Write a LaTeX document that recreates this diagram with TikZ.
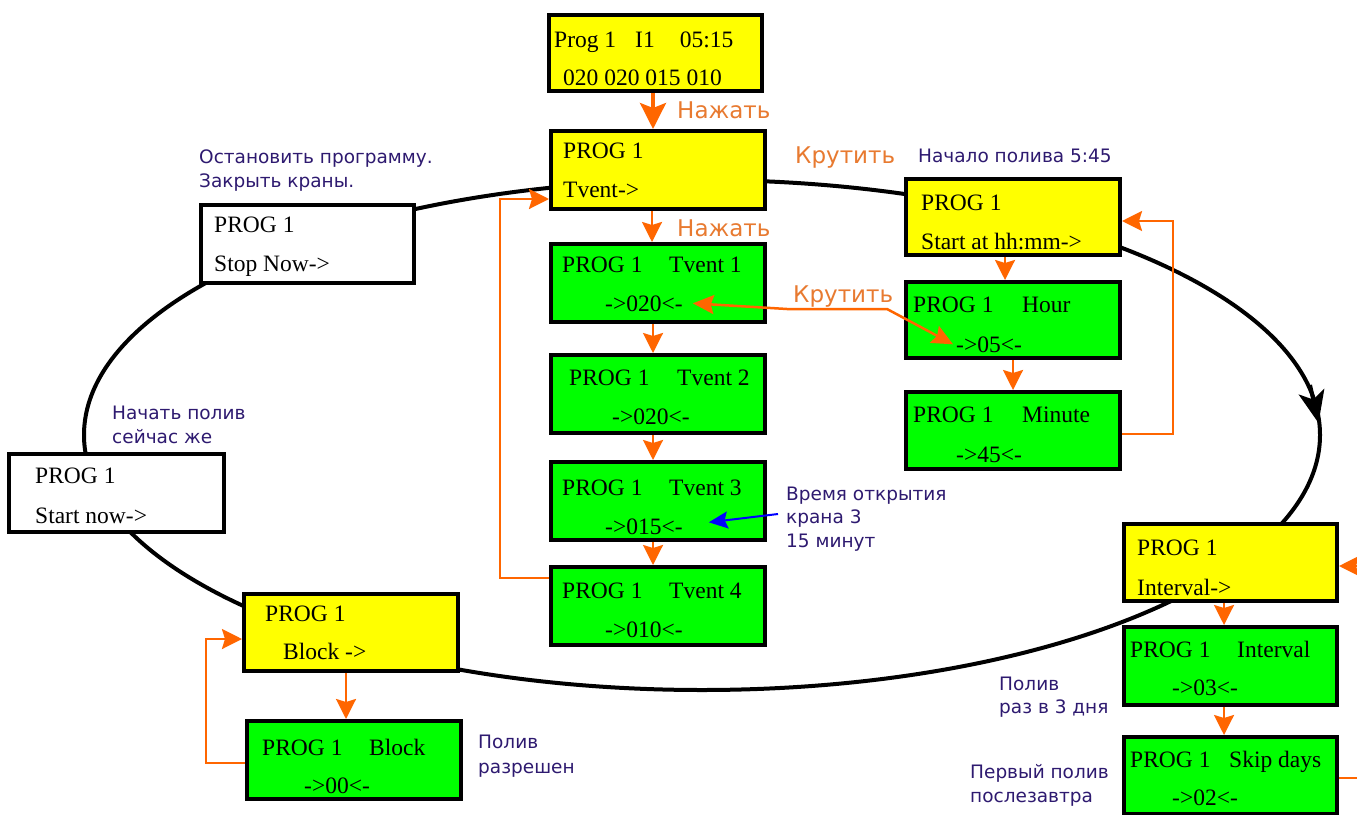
\documentclass[tikz,border=0pt]{standalone}
\usepackage{fontspec}
\setmainfont{Liberation Serif}
\newfontfamily\dv{DejaVu Sans}
\usetikzlibrary{arrows.meta,calc}
\definecolor{annc}{RGB}{46,26,112}
\definecolor{olab}{RGB}{232,122,48}
\definecolor{oline}{RGB}{255,102,0}
\definecolor{lcdy}{RGB}{255,255,0}
\definecolor{lcdg}{RGB}{0,255,0}
\definecolor{bluea}{RGB}{0,0,255}
\begin{document}
\begin{tikzpicture}[x=1pt,y=-1pt,
  lcd/.style={draw=black, line width=4pt, inner sep=0pt, minimum width=214pt, minimum height=78pt},
  lt/.style={anchor=base west, inner sep=0pt, font=\fontsize{23.5}{23.5}\selectfont},
  an/.style={anchor=base west, inner sep=0pt, text=annc, font=\dv\fontsize{18.5}{24}\selectfont},
  ol/.style={anchor=base west, inner sep=0pt, text=olab, font=\dv\fontsize{23}{23}\selectfont},
  oarr/.style={draw=oline, line width=2.5pt, -{Stealth[length=20pt,width=20pt,inset=3pt]}},
  obig/.style={draw=oline, line width=3.5pt, -{Stealth[length=26pt,width=26pt,inset=5pt]}},
  loopline/.style={draw=black, line width=4pt}
]
\useasboundingbox (0,0) rectangle (1357,814);
\fill[white] (0,0) rectangle (1357,814);

% main loop
\draw[loopline] (702,435) ellipse [x radius=618pt, y radius=255pt];
\coordinate (lp1) at (1310,385);
\coordinate (lp2) at (1318.5,423);
\draw[loopline, -{Stealth[length=32pt,width=26pt,inset=8pt]}] (lp1) -- (lp2);

% boxes
\node[lcd, fill=lcdy, minimum width=213pt, minimum height=76pt] (top) at (655.5,53) {};
\node[lcd, fill=lcdy] (tv) at (658,170) {};
\node[lcd, fill=lcdg] (t1) at (658,283) {};
\node[lcd, fill=lcdg] (t2) at (658,394) {};
\node[lcd, fill=lcdg] (t3) at (658,501) {};
\node[lcd, fill=lcdg] (t4) at (658,606) {};
\node[lcd, fill=lcdy, minimum height=76pt] (st) at (1013,217) {};
\node[lcd, fill=lcdg, minimum height=76pt] (hr) at (1013,320) {};
\node[lcd, fill=lcdg, minimum height=77pt] (mn) at (1013,430.5) {};
\node[lcd, fill=lcdy, minimum width=213pt, minimum height=77pt] (iv) at (1230.5,562.5) {};
\node[lcd, fill=lcdg, minimum width=213pt] (iv2) at (1230.5,666) {};
\node[lcd, fill=lcdg, minimum width=213pt, minimum height=77pt] (sk) at (1230.5,775.5) {};
\node[lcd, fill=white, minimum width=213pt] (sn) at (307.5,244) {};
\node[lcd, fill=white, minimum width=215pt] (sw) at (116.5,493) {};
\node[lcd, fill=lcdy, minimum height=77pt] (bl) at (351,632.5) {};
\node[lcd, fill=lcdg] (bk) at (354,760) {};

% box texts
\node[lt] (topa) at (554,47) {Prog 1\hspace{19pt}I1\hspace{25pt}05:15};
\node[lt] (topb) at (563,85) {020 020 015 010};
\node[lt] (tva) at (563,158) {PROG 1};
\node[lt] (tvb) at (563,197) {Tvent->};
\node[lt] (t1a) at (562,272) {PROG 1};
\node[lt] (t1c) at (669,272) {Tvent 1};
\node[lt] (t1b) at (605,311) {->020<-};
\node[lt] (t2a) at (569,385) {PROG 1};
\node[lt] (t2c) at (677,385) {Tvent 2};
\node[lt] (t2b) at (612,424) {->020<-};
\node[lt] (t3a) at (562,495) {PROG 1};
\node[lt] (t3c) at (669,495) {Tvent 3};
\node[lt] (t3b) at (605,534) {->015<-};
\node[lt] (t4a) at (562,598) {PROG 1};
\node[lt] (t4c) at (669,598) {Tvent 4};
\node[lt] (t4b) at (605,637) {->010<-};
\node[lt] (sta) at (921,210) {PROG 1};
\node[lt] (stb) at (921,249) {Start at hh:mm->};
\node[lt] (hra) at (913,312) {PROG 1};
\node[lt] (hrc) at (1022,312) {Hour};
\node[lt] (hrb) at (956,352) {->05<-};
\node[lt] (mna) at (913,422) {PROG 1};
\node[lt] (mnc) at (1022,422) {Minute};
\node[lt] (mnb) at (956,462) {->45<-};
\node[lt] (iva) at (1137,555) {PROG 1};
\node[lt] (ivb) at (1137,595) {Interval->};
\node[lt] (iv2a) at (1130,657) {PROG 1};
\node[lt] (iv2c) at (1237,657) {Interval};
\node[lt] (iv2b) at (1172,695) {->03<-};
\node[lt] (ska) at (1130,767) {PROG 1};
\node[lt] (skc) at (1229,767) {Skip days};
\node[lt] (skb) at (1172,805) {->02<-};
\node[lt] (sna) at (214,232) {PROG 1};
\node[lt] (snb) at (214,271) {Stop Now->};
\node[lt] (swa) at (35,483) {PROG 1};
\node[lt] (swb) at (35,523) {Start now->};
\node[lt] (bla) at (265,621) {PROG 1};
\node[lt] (blb) at (283,659) {Block ->};
\node[lt] (bka) at (262,755) {PROG 1};
\node[lt] (bkc) at (369,755) {Block};
\node[lt] (bkb) at (304,793) {->00<-};

% orange labels
\node[ol] (n1) at (677,118) {Нажать};
\node[ol] (n2) at (677,236) {Нажать};
\node[ol] (k1) at (795,163) {Крутить};
\node[ol] (k2) at (793,302) {Крутить};

% annotations
\node[an] (a1) at (199,163) {Остановить программу.};
\node[an] (a2) at (199,187) {Закрыть краны.};
\node[an] (a3) at (918,162) {Начало полива 5:45};
\node[an] (a4) at (112,419) {Начать полив};
\node[an] (a5) at (112,443) {сейчас же};
\node[an] (a6) at (786,500) {Время открытия};
\node[an] (a7) at (786,523) {крана 3};
\node[an] (a8) at (786,547) {15 минут};
\node[an] (a9) at (999,690) {Полив};
\node[an] (a10) at (999,713) {раз в 3 дня};
\node[an] (a11) at (970,778) {Первый полив};
\node[an] (a12) at (970,802) {послезавтра};
\node[an] (a13) at (478,748) {Полив};
\node[an] (a14) at (478,773) {разрешен};

% orange connectors
\draw[obig] ([xshift=-2.5pt]top.south) -- ([xshift=-2.5pt]top.south |- tv.north);
\draw[oarr] ([xshift=-6pt]tv.south) -- ([xshift=-6pt]t1.north);
\draw[oarr] ([xshift=-5pt]t1.south) -- ([xshift=-5pt]t2.north);
\draw[oarr] ([xshift=-5pt]t2.south) -- ([xshift=-5pt]t3.north);
\draw[oarr] ([xshift=-5pt]t3.south) -- ([xshift=-5pt]t4.north);
\draw[oarr] ([yshift=28pt]t4.west) -- ++(-49,0) |- ([yshift=-29pt]tv.west);
\draw[oarr] ([xshift=-8pt]st.south) -- ([xshift=-8pt]hr.north);
\draw[oarr] (hr.south) -- (mn.north);
\draw[oarr] ([yshift=-3.5pt]mn.east) -- ++(51,0) |- ([yshift=-4pt]st.east);
\draw[oarr, {Stealth[length=21pt,width=19pt,inset=3pt]}-{Stealth[length=21pt,width=19pt,inset=3pt]}]
  ([xshift=10pt]t1b.east) -- (787,309) -- (887,309) -- ([xshift=-3pt]hrb.west);
\draw[oarr] ([xshift=-6.5pt]iv.south) -- ([xshift=-6.5pt]iv2.north);
\draw[oarr] ([xshift=-6.5pt]iv2.south) -- ([xshift=-6.5pt]sk.north);
\draw[oarr] ([yshift=-2.5pt]sk.east) -- ++(45,0) |- ([yshift=-3.5pt]iv.east);
\draw[oarr] ([xshift=-5pt]bl.south) -- ([xshift=-5pt]bl.south |- bk.north);
\draw[oarr] ([yshift=-3pt]bk.west) -- ++(-39,0) |- ([yshift=-6.5pt]bl.west);

% blue arrow
\coordinate (bstart) at (778,514);
\draw[draw=bluea, line width=2pt, -{Stealth[length=19pt,width=17pt,inset=3pt]}] (bstart) -- ([xshift=26pt,yshift=4pt]t3b.east);
\end{tikzpicture}
\end{document}
